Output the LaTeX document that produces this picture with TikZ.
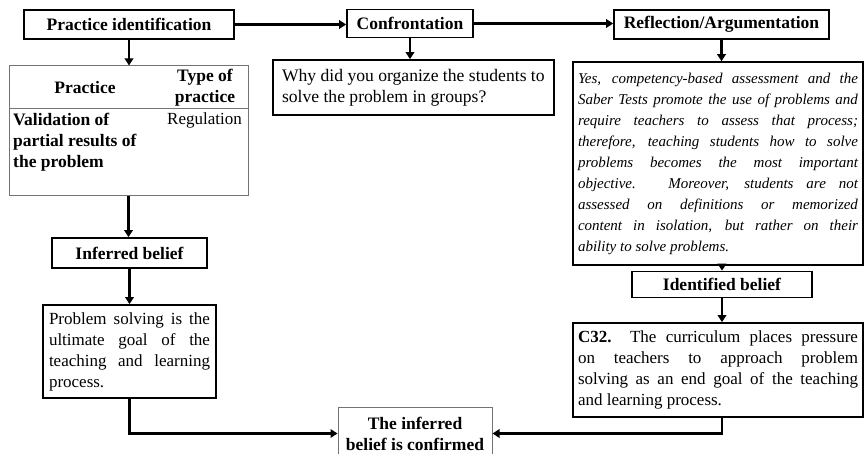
\documentclass[tikz,border=0pt]{standalone}
\usepackage{fontspec}
\setmainfont{Liberation Serif}
\usetikzlibrary{arrows.meta,calc}
\begin{document}
\begin{tikzpicture}[x=1pt,y=-1pt,
  txt/.style={font=\fontsize{17}{21}\selectfont},
  btxt/.style={font=\fontsize{17.5}{21}\selectfont\bfseries},
  sized/.style 2 args={minimum width=#1, minimum height=#2},
  head/.style={draw, line width=1.7pt, inner sep=0pt, btxt},
  darkbox/.style={draw, line width=1.7pt, inner xsep=6pt, inner ysep=0pt},
  lightbox/.style={draw=black!55, line width=1pt, inner sep=0pt},
  conn/.style={line width=2.7pt, -{Triangle[length=7pt,width=8.5pt]}}
]
\useasboundingbox (0,0) rectangle (865,454);
\clip (0,0) rectangle (865,454);

% header row
\node[head, sized={210}{29}] (pi) at (129,24.5) {Practice identification};
\node[head, sized={126}{28}] (cf) at (410,23.5) {Confrontation};
\node[head, sized={215}{29}] (ra) at (721.5,24.5) {Reflection/Argumentation};

% practice table
\node[lightbox, sized={239}{130}] (tbl) at (128.5,131) {};
\draw[draw=black!55, line width=1pt] (tbl.west |- 0,109) -- (tbl.east |- 0,109);
\node[btxt, inner sep=0pt] (thp) at (85,88) {Practice};
\node[btxt, inner sep=0pt, align=center] (tht) at (205,88) {Type of\\practice};
\node[btxt, inner sep=0pt, align=left, anchor=north west] (tdv) at (13,113) {Validation of\\partial results of\\the problem};
\node[txt, inner sep=0pt, anchor=base] (tdr) at (204.5,125) {Regulation};

% left column
\node[head, sized={155}{30}] (inf) at (129.5,253) {Inferred belief};
\node[darkbox, sized={173}{93}, txt, text width=161, align=justify] (prob) at (129.5,351.5)
  {Problem solving is the\linebreak ultimate goal of the\linebreak teaching and learning\linebreak process.};

% middle column
\node[darkbox, sized={281}{55}, inner xsep=8pt, align=left, anchor=west,
  font=\fontsize{17.6}{21}\selectfont] (q) at (272,87.5)
  {Why did you organize the students to\\solve the problem in groups?};

% right column
\node[draw, line width=1.5pt, inner xsep=5pt, inner ysep=0pt, sized={290}{203},
  text width=280, align=justify, font=\fontsize{15}{21}\selectfont\itshape] (ital) at (718,163.5)
  {Yes, competency-based assessment and the\linebreak
   Saber Tests promote the use of problems and\linebreak
   require teachers to assess that process;\linebreak
   therefore, teaching students how to solve\linebreak
   problems becomes the most important\linebreak
   objective. Moreover, students are not\linebreak
   assessed on definitions or memorized\linebreak
   content in isolation, but rather on their\linebreak
   ability to solve problems.};
\node[head, sized={180}{26}] (idb) at (722,284.5) {Identified belief};
\node[darkbox, inner xsep=5pt, sized={290}{94}, txt, text width=280, align=justify] (c32) at (718,370)
  {\textbf{C32.}\ \ The curriculum places pressure\linebreak
   on teachers to approach problem\linebreak
   solving as an end goal of the teaching\linebreak
   and learning process.};

% outcome
\node[lightbox, sized={154}{53}, btxt, align=center] (conf) at (415,433.5)
  {The inferred\\belief is confirmed};

% connectors
\draw[conn] (pi.east) -- (pi.east -| cf.west);
\draw[conn] (cf.east) -- (cf.east -| ra.west);
\draw[conn] (pi.south) -- (pi.south |- tbl.north);
\draw[conn] (tbl.south) -- (tbl.south |- inf.north);
\draw[conn] (inf.south) -- (inf.south |- prob.north);
\draw[conn] (cf.south) -- (cf.south |- q.north);
\draw[conn] (ra.south) -- (ra.south |- ital.north);
\draw[conn] (ital.south -| idb.south) -- (idb.north);
\draw[conn] (idb.south) -- (idb.south |- c32.north);
\draw[conn] (prob.south) |- (conf.west);
\draw[conn] (c32.south -| idb.south) |- (conf.east);
\end{tikzpicture}
\end{document}
